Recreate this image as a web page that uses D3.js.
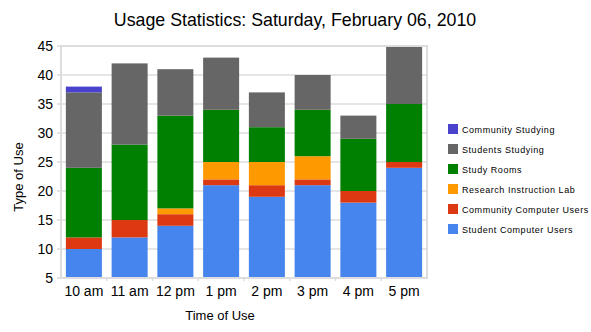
<!DOCTYPE html>
<html><head><meta charset="utf-8">
<script src="https://cdn.jsdelivr.net/npm/d3@7"></script>
<style>
html,body{margin:0;padding:0;background:#fff;}
text{font-family:"Liberation Sans",Arial,sans-serif;}
</style></head>
<body><svg id="c" width="591" height="332"></svg>
<script>
const categories = ["10 am","11 am","12 pm","1 pm","2 pm","3 pm","4 pm","5 pm"];
const seriesNames = ["Student Computer Users","Community Computer Users","Research Instruction Lab","Study Rooms","Students Studying","Community Studying"];
const seriesColors = ["#4684ee","#dc3912","#ff9900","#008000","#666666","#4942cc"];
const studentComputer   = [10,12,14,21,19,21,18,24];
const communityComputer = [2,3,2,1,2,1,2,1];
const researchLab       = [0,0,1,3,4,4,0,0];
const studyRooms        = [12,13,16,9,6,8,9,10];
const studentsStudying  = [13,14,8,9,6,6,4,10];
const communityStudying = [1,0,0,0,0,0,0,0];
const yTicks = [5,10,15,20,25,30,35,40,45];
const title = "Usage Statistics: Saturday, February 06, 2010";
const xTitle = "Time of Use";
const yTitle = "Type of Use";

const seriesValues = [studentComputer,communityComputer,researchLab,studyRooms,studentsStudying,communityStudying];
const rows = categories.map((c,i)=>{const r={cat:c}; seriesNames.forEach((s,j)=>r[s]=seriesValues[j][i]); return r;});
const stacked = d3.stack().keys(seriesNames)(rows);

const svg = d3.select("#c");
const L=61, R=427, T=46, B=278;
const x = d3.scaleBand().domain(categories).range([L,R]).paddingInner(0.213).paddingOuter(0.1065);
const y = d3.scaleLinear().domain([5,45]).range([B,T]);

// gridlines
svg.append("g").selectAll("line").data(yTicks).join("line")
  .attr("x1",L-4).attr("x2",R).attr("y1",d=>y(d)).attr("y2",d=>y(d))
  .attr("stroke","#dddddd").attr("stroke-width",1.5);

// bars
const clip = v=>Math.min(45,Math.max(5,v));
svg.append("g").selectAll("g").data(stacked).join("g")
  .attr("fill",(d,i)=>seriesColors[i])
  .selectAll("rect").data(d=>d).join("rect")
  .attr("x",d=>x(d.data.cat)).attr("width",x.bandwidth())
  .attr("y",d=>y(clip(d[1]))).attr("height",d=>Math.max(0,y(clip(d[0]))-y(clip(d[1]))));

// border
svg.append("rect").attr("x",L).attr("y",T).attr("width",R-L).attr("height",B-T)
  .attr("fill","none").attr("stroke","#dddddd").attr("stroke-width",2);

// x ticks at band boundaries
const bounds = categories.slice(1).map(c=>x(c)-x.step()*x.paddingInner()/2);
svg.append("g").selectAll("line").data(bounds).join("line")
  .attr("x1",d=>d).attr("x2",d=>d).attr("y1",B).attr("y2",B+3)
  .attr("stroke","#dddddd").attr("stroke-width",1.5);

// y labels
svg.append("g").selectAll("text").data(yTicks).join("text")
  .attr("x",53).attr("y",d=>y(d)).attr("dy","0.38em").attr("text-anchor","end")
  .attr("font-size",14).attr("fill","#000").text(d=>d);

// x labels
svg.append("g").selectAll("text").data(categories).join("text")
  .attr("x",d=>x(d)+x.bandwidth()/2).attr("y",296).attr("text-anchor","middle")
  .attr("font-size",14).attr("fill","#000").text(d=>d);

svg.append("text").attr("x",220).attr("y",320).attr("text-anchor","middle")
  .attr("font-size",13).attr("fill","#000").text(xTitle);
svg.append("text").attr("transform","translate(23,177) rotate(-90)").attr("text-anchor","middle")
  .attr("font-size",13).attr("fill","#000").text(yTitle);
svg.append("text").attr("x",295).attr("y",26).attr("text-anchor","middle")
  .attr("font-size",17.8).attr("fill","#000").text(title);

// legend (reverse order)
const legendOrder = seriesNames.map((s,i)=>i).reverse();
const lg = svg.append("g").selectAll("g").data(legendOrder).join("g")
  .attr("transform",(d,k)=>`translate(448,${124+k*20})`);
lg.append("rect").attr("width",10).attr("height",10).attr("fill",d=>seriesColors[d]);
lg.append("text").attr("x",14).attr("y",9).attr("font-size",9).attr("letter-spacing",0.55)
  .attr("fill","#000").text(d=>seriesNames[d]);
</script></body></html>
